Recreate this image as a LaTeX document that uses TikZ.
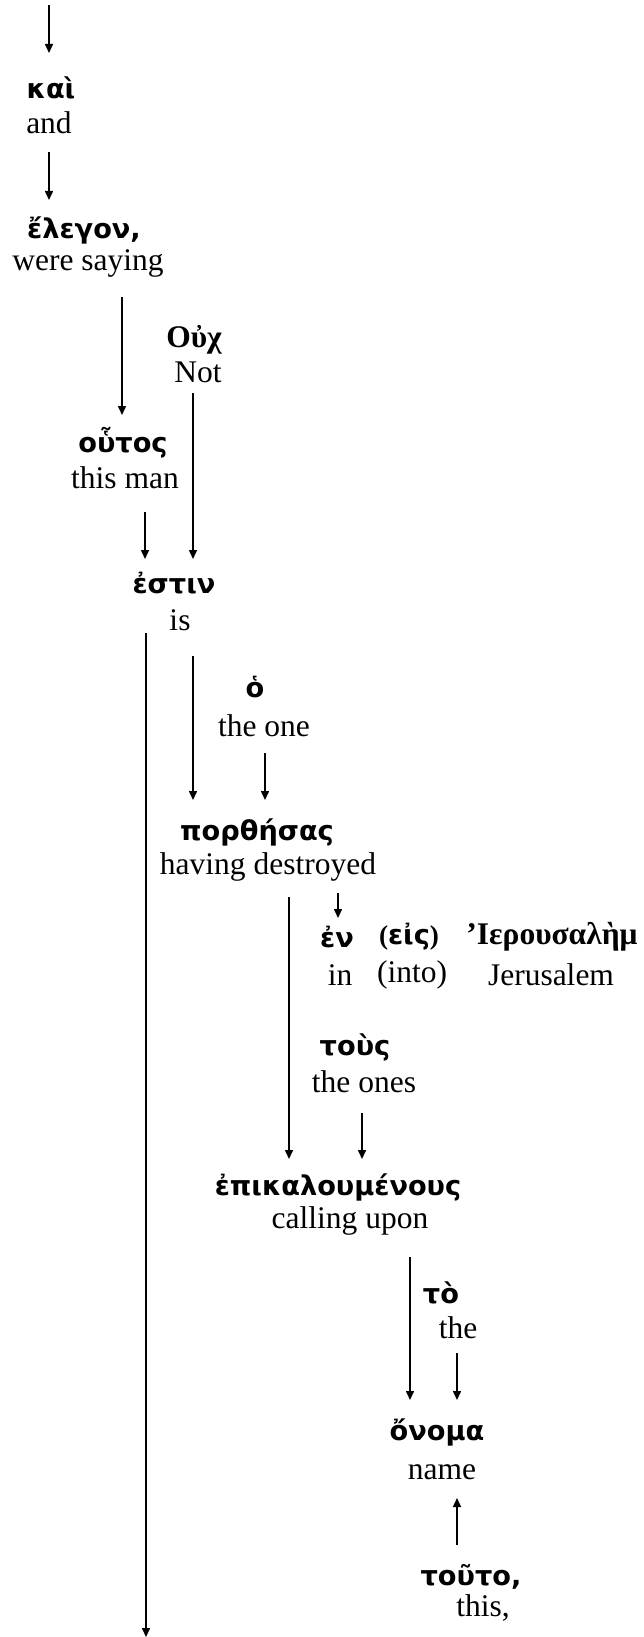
\documentclass[tikz,border=0pt]{standalone}
\usepackage{fontspec}
\setmainfont{Liberation Serif}
\newfontfamily\grk{DejaVu Sans}
\usetikzlibrary{arrows.meta,calc}
\begin{document}
\begin{tikzpicture}[x=0.5pt,y=-0.5pt,
  en/.style={inner sep=0pt, font=\fontsize{15.75}{18}\selectfont},
  gk/.style={inner sep=0pt, font=\fontsize{13.6}{16}\selectfont\grk\bfseries},
  gs/.style={inner sep=0pt, font=\fontsize{15.75}{18}\selectfont\bfseries},
  arr/.style={line width=0.75pt, -{Triangle[length=4.5pt,width=4pt]}}]
\useasboundingbox (0,0) rectangle (643,1637);
% words
\node[gk] (kai) at (51,88) {καὶ};
\node[en] (and) at (49,123) {and};
\node[gk] (elegon) at (84,230) {ἔλεγον,};
\node[en] (were) at (88,263) {were saying};
\node[gs] (ouch) at (194,340) {Οὐχ};
\node[en] (not) at (198,372) {Not};
\node[gk] (outos) at (123,443) {οὗτος};
\node[en] (thisman) at (125,478) {this man};
\node[gk] (estin) at (174,583) {ἐστιν};
\node[en] (is) at (180,620) {is};
\node[gk] (ho) at (255,687) {ὁ};
\node[en] (theone) at (264,726) {the one};
\node[gk] (porth) at (257,832) {πορθήσας};
\node[en] (hd) at (268,867) {having destroyed};
\node[gk] (en) at (337,937) {ἐν};
\node[en] (in) at (340,975) {in};
\node[gk] (eis) at (409,937) {{\rmfamily(}εἰς{\rmfamily)}};
\node[en] (into) at (412,975) {(into)};
\node[gs] (ier) at (552,937) {’Ιερουσαλὴμ};
\node[en] (jer) at (551,975) {Jerusalem};
\node[gk] (tous) at (355,1047) {τοὺς};
\node[en] (theones) at (364,1082) {the ones};
\node[gk] (epik) at (338,1187) {ἐπικαλουμένους};
\node[en] (calling) at (350,1221) {calling upon};
\node[gk] (to) at (441,1293) {τὸ};
\node[en] (the) at (458,1328) {the};
\node[gk] (onoma) at (437,1432) {ὄνομα};
\node[en] (name) at (442,1472) {name};
\node[gk] (touto) at (471,1577) {τοῦτο,};
\node[en] (this) at (483,1608) {this,};
\coordinate (top) at (49,5);
\coordinate (bottom) at (146,1637);
% connectors
\draw[arr] (top) -- ($(kai)+(-2,-35)$);
\draw[arr] ($(and)+(0,29)$) -- ($(elegon)+(-35,-30)$);
\draw[arr] ($(were)+(34,34)$) -- ($(outos)+(-1,-28)$);
\draw[arr] ($(not)+(-5,21)$) -- ($(estin)+(19,-24)$);
\draw[arr] ($(thisman)+(20,34)$) -- ($(estin)+(-29,-24)$);
\draw[arr] ($(is)+(-34,13)$) -- (bottom);
\draw[arr] ($(is)+(13,36)$) -- ($(porth)+(-64,-32)$);
\draw[arr] ($(theone)+(1,27)$) -- ($(porth)+(8,-32)$);
\draw[arr] ($(hd)+(21,30)$) -- ($(epik)+(-49,-28)$);
\draw[arr] ($(hd)+(70,26)$) -- ($(en)+(1,-19)$);
\draw[arr] ($(theones)+(-2,31)$) -- ($(epik)+(24,-28)$);
\draw[arr] ($(calling)+(60,36)$) -- ($(onoma)+(-27,-32)$);
\draw[arr] ($(the)+(-1,25)$) -- ($(onoma)+(20,-32)$);
\draw[arr] ($(touto)+(-14,-32)$) -- ($(name)+(15,26)$);
\end{tikzpicture}
\end{document}
